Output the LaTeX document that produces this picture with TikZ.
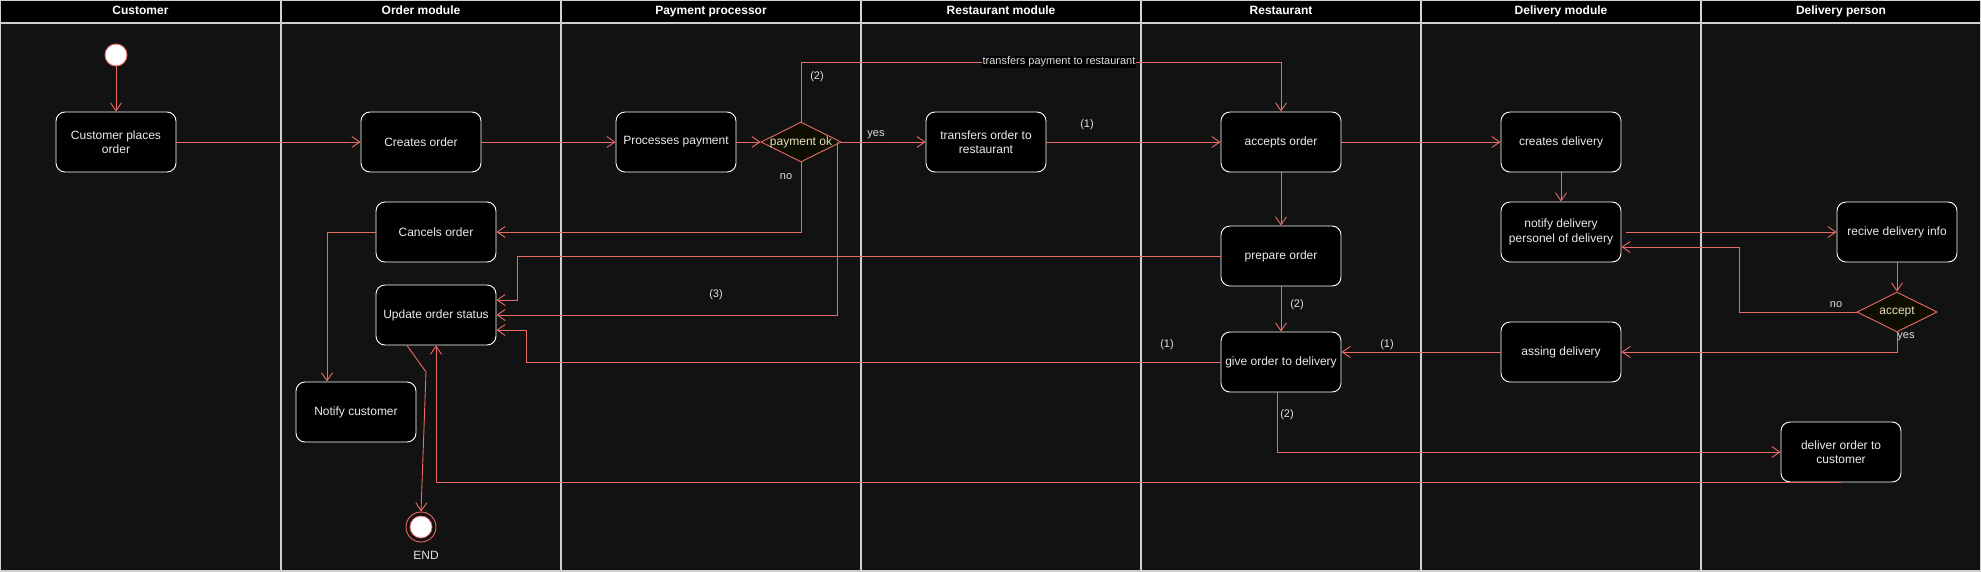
\documentclass[tikz,border=0pt]{standalone}
\usepackage{fontspec}
\setmainfont{Liberation Sans}
\usetikzlibrary{arrows.meta,shapes.geometric}

\definecolor{flowred}{HTML}{EA6B66}
\definecolor{lanebg}{HTML}{121212}
\definecolor{laneline}{HTML}{CFCFCF}
\definecolor{choicefill}{HTML}{0D0D00}
\definecolor{choicetext}{HTML}{E2E2BC}

\tikzset{
  activity/.style={draw=white, fill=black, rounded corners=9pt, minimum width=120pt, minimum height=60pt,
    align=center, text=white!92!black, font=\fontsize{12}{14.5}\selectfont, line width=0.9pt},
  choice/.style={diamond, draw=flowred, fill=choicefill, minimum width=80pt, minimum height=40pt,
    inner sep=0pt, text=choicetext, font=\fontsize{12}{14}\selectfont, line width=0.9pt},
  flow/.style={draw=flowred, line width=0.9pt, -{Straight Barb[length=8pt,width=11pt,line width=0.9pt]}},
  edgelab/.style={text=white!88!black, font=\fontsize{11}{13}\selectfont, inner sep=1pt},
  lanehead/.style={text=white, font=\bfseries\fontsize{12}{14}\selectfont, text height=8.6pt, text depth=2.4pt},
}

\begin{document}
\begin{tikzpicture}[x=1pt,y=-1pt]
  \useasboundingbox (0,0) rectangle (1981,571);

  %Swimlanes
  \fill[lanebg] (0,0) rectangle (1981,571);
  \fill[black] (0,0) rectangle (1981,23);
  \draw[laneline, line width=1.4pt] (0,0) rectangle (1981,571);
  \draw[laneline, line width=1.2pt] (0,23) -- (1981,23);
  \draw[laneline, line width=1.2pt] (281,0) -- (281,571);
  \draw[laneline, line width=1.2pt] (561,0) -- (561,571);
  \draw[laneline, line width=1.2pt] (861,0) -- (861,571);
  \draw[laneline, line width=1.2pt] (1141,0) -- (1141,571);
  \draw[laneline, line width=1.2pt] (1421,0) -- (1421,571);
  \draw[laneline, line width=1.2pt] (1701,0) -- (1701,571);

  \node[lanehead] at (140.5,11.5) (hcust) {Customer};
  \node[lanehead] at (421,11.5)   (hord)  {Order module};
  \node[lanehead] at (711,11.5)   (hpay)  {Payment processor};
  \node[lanehead] at (1001,11.5)  (hrmod) {Restaurant module};
  \node[lanehead] at (1281,11.5)  (hrest) {Restaurant};
  \node[lanehead] at (1561,11.5)  (hdmod) {Delivery module};
  \node[lanehead] at (1841,11.5)  (hdper) {Delivery person};

  %Start and end
  \node[circle, fill=white, draw=flowred, line width=0.9pt, minimum size=22pt, inner sep=0pt] at (116,55) (start) {};
  \node[circle, draw=flowred, line width=0.9pt, minimum size=30pt, inner sep=0pt] at (421,527) (endn) {};
  \node[circle, fill=white, draw=flowred, line width=0.7pt, minimum size=22pt, inner sep=0pt] at (421,527) (endin) {};
  \node[edgelab, font=\fontsize{12}{14}\selectfont] at (426,555) (endlab) {END};

  %Activities
  \node[activity] at (116,142)  (cpo) {Customer places\\order};
  \node[activity] at (421,142)  (co)  {Creates order};
  \node[activity] at (676,142)  (pp)  {Processes payment};
  \node[choice]   at (801,142)  (pok) {\makebox[0pt]{payment ok}};
  \node[activity] at (986,142)  (tor) {transfers order to\\restaurant};
  \node[activity] at (1281,142) (ao)  {accepts order};
  \node[activity] at (1561,142) (cd)  {creates delivery};

  \node[activity] at (436,232)  (cno) {Cancels order};
  \node[activity] at (436,315)  (uos) {Update order status};
  \node[activity] at (356,412)  (nc)  {Notify customer};

  \node[activity] at (1281,256) (po)  {prepare order};
  \node[activity] at (1281,362) (god) {give order to delivery};
  \node[activity] at (1561,232) (ndp) {notify delivery\\personel of delivery};
  \node[activity] at (1897,232) (rdi) {recive delivery info};
  \node[choice]   at (1897,312) (acc) {\makebox[0pt]{accept}};
  \node[activity] at (1561,352) (asd) {assing delivery};
  \node[activity] at (1841,452) (doc) {deliver order to\\customer};

  \coordinate (paytop) at (801,62);
  \coordinate (endbend) at (426,372);

  %Flows
  \draw [flow] (start.south)to(cpo.north);
  \draw [flow] (cpo.east)to(co.west);
  \draw [flow] (co.east)to(pp.west);
  \draw [flow] (pp.east)to(pok.west);
  \draw [flow] (pok.east)to(tor.west);
  \draw [flow] (tor.east)to(ao.west);
  \draw [flow] (pok.north) -- (paytop) -| (ao.north);
  \draw [flow] (pok.south) |- (cno.east);
  \draw [flow] ([xshift=-4pt]pok.east) |- (uos.east);
  \draw [flow] (po.west) -- (po.west -| 517,0) |- ([yshift=15pt]uos.east);
  \draw [flow] (god.west) -- (god.west -| 526,0) |- ([yshift=-15pt]uos.east);
  \draw [flow] (doc.south) -| (uos.south);
  \draw [flow] ([xshift=-29pt]uos.south) -- (endbend) -- (endn.north);
  \draw [flow] (cno.west) -| ([xshift=-29pt]nc.north);

  \draw [flow] (ao.south)to(po.north);
  \draw [flow] (po.south)to(god.north);
  \draw [flow] (ao.east)to(cd.west);
  \draw [flow] (cd.south)to(ndp.north);
  \draw [flow] ([xshift=5pt]ndp.east)to(rdi.west);
  \draw [flow] (rdi.south)to(acc.north);
  \draw [flow] (acc.west) -- (1739,312) |- ([yshift=-15pt]ndp.east);
  \draw [flow] (acc.south) |- (asd.east);
  \draw [flow] (asd.west) -- (asd.west -| god.east);
  \draw [flow] ([xshift=-4pt]god.south) |- (doc.west);

  %Flow labels
  \node[edgelab, fill=black] at (1059,62) (tplab) {transfers payment to restaurant};
  \node[edgelab] at (817,77)   (l2a) {(2)};
  \node[edgelab] at (876,135)  (lyes) {yes};
  \node[edgelab] at (786,177)  (lno) {no};
  \node[edgelab] at (716,295)  (l3) {(3)};
  \node[edgelab] at (1087,125) (l1a) {(1)};
  \node[edgelab] at (1297,305) (l2b) {(2)};
  \node[edgelab] at (1167,345) (l1b) {(1)};
  \node[edgelab] at (1387,345) (l1c) {(1)};
  \node[edgelab] at (1287,415) (l2c) {(2)};
  \node[edgelab] at (1836,305) (lno2) {no};
  \node[edgelab] at (1906,337) (lyes2) {yes};

\end{tikzpicture}
\end{document}
